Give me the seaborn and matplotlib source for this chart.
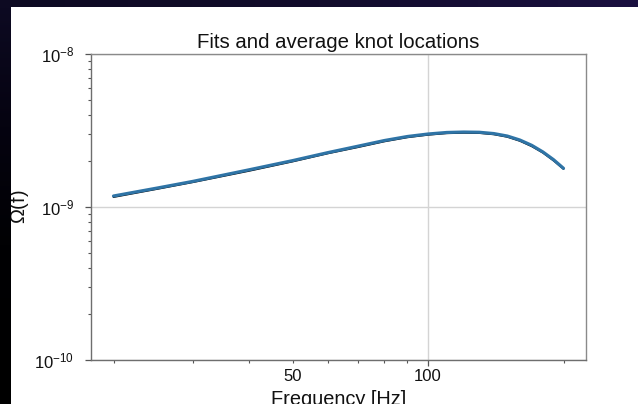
import numpy as np
import pandas as pd
import matplotlib
matplotlib.use("Agg")
import matplotlib.pyplot as plt
from matplotlib.colors import to_rgb
from matplotlib.ticker import FixedLocator, FixedFormatter, LogLocator, NullFormatter
import seaborn as sns

# Frequency grid [Hz] and the spectrum Omega(f)
freq_hz = [20, 25, 30, 40, 50, 60, 70, 80, 90, 100,
           110, 120, 130, 140, 150, 160, 170, 180, 190, 200]
omega_avg = [1.18e-9, 1.33e-9, 1.47e-9, 1.75e-9, 2.01e-9, 2.27e-9, 2.50e-9,
             2.72e-9, 2.89e-9, 3.00e-9, 3.07e-9, 3.09e-9, 3.08e-9, 3.02e-9,
             2.91e-9, 2.74e-9, 2.53e-9, 2.29e-9, 2.04e-9, 1.79e-9]
omega_fit = [1.16e-9, 1.31e-9, 1.45e-9, 1.72e-9, 1.98e-9, 2.24e-9, 2.46e-9,
             2.68e-9, 2.85e-9, 2.96e-9, 3.03e-9, 3.05e-9, 3.04e-9, 2.98e-9,
             2.87e-9, 2.70e-9, 2.49e-9, 2.26e-9, 2.01e-9, 1.77e-9]

# Axis tick specification
x_major_ticks = [100]
x_major_labels = ["100"]
x_minor_ticks = [20, 30, 40, 50, 60, 70, 80, 90, 200]
x_minor_labels = ["", "", "", "50", "", "", "", "", ""]
y_limits = (1e-10, 1e-8)

sns.set_theme(style="ticks")
plt.rcParams["font.family"] = ["Liberation Sans", "DejaVu Sans"]
plt.rcParams["mathtext.fontset"] = "custom"
plt.rcParams["mathtext.rm"] = "Liberation Sans"
plt.rcParams["mathtext.it"] = "Liberation Sans:italic"
plt.rcParams["mathtext.bf"] = "Liberation Sans:bold"
plt.rcParams["axes.unicode_minus"] = True

W, H = 638, 404
fig = plt.figure(figsize=(W / 100, H / 100), dpi=100, facecolor="white")
ax = fig.add_axes([91 / W, 44 / H, 495 / W, 306 / H])

df = pd.DataFrame({"f": freq_hz, "fit": omega_fit, "avg": omega_avg})
sns.lineplot(data=df, x="f", y="fit", ax=ax, color="black", lw=1.2, zorder=2)
sns.lineplot(data=df, x="f", y="avg", ax=ax, color="#2f74a6", lw=2.3, zorder=3)

ax.set_xscale("log")
ax.set_yscale("log")
ax.set_ylim(*y_limits)

ax.xaxis.set_major_locator(FixedLocator(x_major_ticks))
ax.xaxis.set_major_formatter(FixedFormatter(x_major_labels))
ax.xaxis.set_minor_locator(FixedLocator(x_minor_ticks))
ax.xaxis.set_minor_formatter(FixedFormatter(x_minor_labels))
ax.yaxis.set_major_locator(LogLocator(base=10))
ax.yaxis.set_minor_locator(LogLocator(base=10, subs=np.arange(2, 10)))
ax.yaxis.set_minor_formatter(NullFormatter())

ax.grid(True, which="major", color="#d4d4d4", lw=1.0)
ax.grid(False, which="minor")
for side in ["left", "right", "top", "bottom"]:
    ax.spines[side].set_visible(True)
    ax.spines[side].set_color("#8a8a8a")
    ax.spines[side].set_linewidth(1.0)
ax.spines["left"].set_color("#6e6e6e")
ax.spines["bottom"].set_color("#6e6e6e")
ax.tick_params(which="major", direction="out", length=4, width=0.9,
               color="#555555", labelsize=12, labelcolor="#111111")
ax.tick_params(which="minor", direction="out", length=2.2, width=0.8,
               color="#555555", labelsize=12, labelcolor="#111111")
ax.tick_params(axis="x", which="major", pad=2.5)
ax.tick_params(axis="x", which="minor", pad=4.0)
ax.tick_params(axis="y", which="major", pad=8.3)

ax.set_title("Fits and average knot locations", fontsize=14.7, color="#111111", pad=4)
ax.set_xlabel("Frequency [Hz]", fontsize=14.4, color="#111111")
ax.set_ylabel(r"$\Omega$(f)", fontsize=14.4, color="#111111")
ax.xaxis.set_label_coords(0.5, -0.098)
ax.yaxis.set_label_coords(-0.121, 0.5)


def strip(rect, colors, positions, vertical):
    sax = fig.add_axes(rect, zorder=10)
    n = 256
    t = np.linspace(0, 1, n)
    rgb = np.array([to_rgb(c) for c in colors])
    grad = np.stack([np.interp(t, positions, rgb[:, k]) for k in range(3)], axis=-1)
    img = grad[:, None, :] if vertical else grad[None, :, :]
    sax.imshow(img, aspect="auto", extent=(0, 1, 0, 1), origin="upper")
    sax.set_axis_off()


# dark slide border along the top and left edges
strip([0, 1 - 7 / H, 1, 7 / H], ["#0d0a22", "#120c2c", "#1a1040"], [0, 0.5, 1], False)
strip([0, 0, 11 / W, 1 - 7 / H], ["#0d0a22", "#050310", "#010103", "#000000"],
      [0, 0.3, 0.6, 1], True)

fig.savefig("out.png", dpi=100, facecolor="white")
